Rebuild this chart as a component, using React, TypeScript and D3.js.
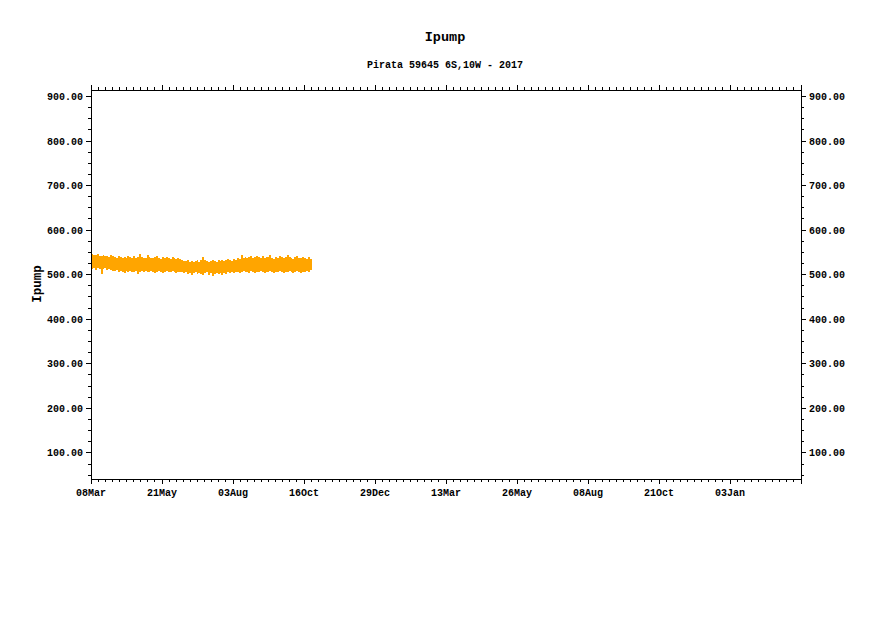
import React from "react";
import * as d3 from "d3";

const title = "Ipump";
const subtitle = "Pirata 59645 6S,10W - 2017";
const yLabel = "Ipump";

const axisStart = "2017-03-08";
const axisEnd = "2019-03-18";
const xTickDates = ["2017-03-08", "2017-05-21", "2017-08-03", "2017-10-16", "2017-12-29", "2018-03-13", "2018-05-26", "2018-08-08", "2018-10-21", "2019-01-03", "2019-03-18"];
const xTickLabels = ["08Mar", "21May", "03Aug", "16Oct", "29Dec", "13Mar", "26May", "08Aug", "21Oct", "03Jan", ""];
const yTicks = [100, 200, 300, 400, 500, 600, 700, 800, 900];
const yDomain = [41.5, 914.5];

// data: sampled every 2 days from 2017-03-08, upper & lower envelope of Ipump
const dataStart = "2017-03-08";
const ipumpHi = [
  547, 545, 544, 546, 543, 542, 545, 541, 543, 540, 544, 542,
  540, 538, 541, 539, 537, 540, 538, 542, 539, 537, 541, 538, 540, 546, 539, 537, 538, 545, 540, 538, 537, 539, 541, 538, 536, 539, 537, 540, 538, 536, 539, 537, 535, 538, 536,
  533, 531, 530, 532, 529, 531, 528, 530, 532, 529, 534, 540, 532, 530, 529, 531, 533, 530, 528, 532, 531, 534, 530, 532, 535, 533, 531, 536, 534, 537, 535,
  544, 538, 540, 537, 539, 541, 538, 540, 543, 539, 537, 541, 538, 540, 539, 544, 538, 536, 540, 538, 541, 539, 537, 540, 545, 539, 538, 536, 539, 541, 538, 537, 540, 538, 536, 539, 535,
];
const ipumpLo = [
  512, 514, 511, 515, 513, 502, 512, 514, 510, 513, 511, 509,
  508, 510, 506, 509, 507, 504, 508, 506, 509, 507, 505, 508, 502, 507, 509, 506, 508, 505, 507, 509, 506, 503, 507, 508, 506, 504, 507, 509, 506, 505, 508, 506, 504, 507, 505,
  505, 503, 506, 502, 504, 500, 503, 505, 501, 504, 502, 499, 503, 505, 500, 503, 498, 502, 504, 501, 503, 500, 504, 502, 505, 503, 506, 504, 507, 505, 503,
  506, 508, 505, 507, 504, 508, 506, 503, 507, 505, 508, 506, 504, 507, 505, 509, 506, 503, 507, 505, 508, 506, 504, 507, 505, 508, 506, 503, 507, 509, 506, 504, 507, 505, 508, 506, 510,
];

const W = 891;
const H = 630;
const left = 91;
const right = 801;
const top = 90;
const bottom = 479;
const FONT = "'Liberation Mono', 'DejaVu Sans Mono', monospace";
const ORANGE = "#FFA500";

export default function App() {
  const parse = d3.utcParse("%Y-%m-%d");
  const x = d3.scaleUtc().domain([parse(axisStart)!, parse(axisEnd)!]).range([left, right]);
  const y = d3.scaleLinear().domain(yDomain).range([bottom, top]);

  const t0 = parse(dataStart)!;
  const samples = ipumpHi.map((h, i) => ({
    t0: d3.utcDay.offset(t0, i * 2),
    t1: d3.utcDay.offset(t0, i * 2 + 2),
    hi: h,
    lo: ipumpLo[i],
  }));

  const majors = xTickDates.map((s) => parse(s)!);
  const minorX: number[] = [];
  for (let k = 0; k < majors.length - 1; k++) {
    const a = x(majors[k]);
    const b = x(majors[k + 1]);
    for (let j = 1; j < 10; j++) minorX.push(a + ((b - a) * j) / 10);
  }
  const yMinor: number[] = [];
  for (let v = 50; v <= 900; v += 25) if (v % 100 !== 0) yMinor.push(v);

  return (
    <svg width={W} height={H} style={{ position: "absolute", left: 0, top: 0, background: "#fff" }}>
      <rect x={0} y={0} width={W} height={H} fill="#fff" />
      <defs>
        <clipPath id="plot">
          <rect x={left} y={top} width={right - left} height={bottom - top} />
        </clipPath>
      </defs>
      <text x={445} y={41} textAnchor="middle" fontFamily={FONT} fontWeight="bold" fontSize={13.5}>{title}</text>
      <text x={445} y={68} textAnchor="middle" fontFamily={FONT} fontWeight="bold" fontSize={10}>{subtitle}</text>

      <g clipPath="url(#plot)" shapeRendering="crispEdges">
        {samples.map((s, i) => (
          <rect key={i} x={x(s.t0)} width={x(s.t1) - x(s.t0)} y={y(s.hi)} height={y(s.lo) - y(s.hi)} fill={ORANGE} />
        ))}
      </g>

      <g stroke="#000" strokeWidth={1} shapeRendering="crispEdges">
        <rect x={left} y={top} width={right - left} height={bottom - top} fill="none" />
        {yTicks.map((v) => (
          <g key={"ym" + v}>
            <line x1={left - 5} x2={left} y1={y(v)} y2={y(v)} />
            <line x1={right} x2={right + 5} y1={y(v)} y2={y(v)} />
          </g>
        ))}
        {yMinor.map((v) => (
          <g key={"yn" + v}>
            <line x1={left - 3} x2={left} y1={y(v)} y2={y(v)} />
            <line x1={right} x2={right + 3} y1={y(v)} y2={y(v)} />
          </g>
        ))}
        {majors.map((d, i) => (
          <g key={"xm" + i}>
            <line x1={x(d)} x2={x(d)} y1={bottom} y2={bottom + 5} />
            <line x1={x(d)} x2={x(d)} y1={top - 5} y2={top} />
          </g>
        ))}
        {minorX.map((px, i) => (
          <g key={"xn" + i}>
            <line x1={px} x2={px} y1={bottom} y2={bottom + 3} />
            <line x1={px} x2={px} y1={top - 3} y2={top} />
          </g>
        ))}
      </g>

      {yTicks.map((v) => (
        <g key={"yl" + v} fontFamily={FONT} fontWeight="bold" fontSize={10}>
          <text x={left - 8} y={y(v)} dy="0.35em" textAnchor="end">{d3.format(".2f")(v)}</text>
          <text x={right + 8} y={y(v)} dy="0.35em" textAnchor="start">{d3.format(".2f")(v)}</text>
        </g>
      ))}
      {majors.map((d, i) => (
        <text key={"xl" + i} x={x(d)} y={496} textAnchor="middle" fontFamily={FONT} fontWeight="bold" fontSize={10}>{xTickLabels[i]}</text>
      ))}
      <text transform={`translate(41,284) rotate(-90)`} textAnchor="middle" fontFamily={FONT} fontWeight="bold" fontSize={12.5}>{yLabel}</text>
    </svg>
  );
}
